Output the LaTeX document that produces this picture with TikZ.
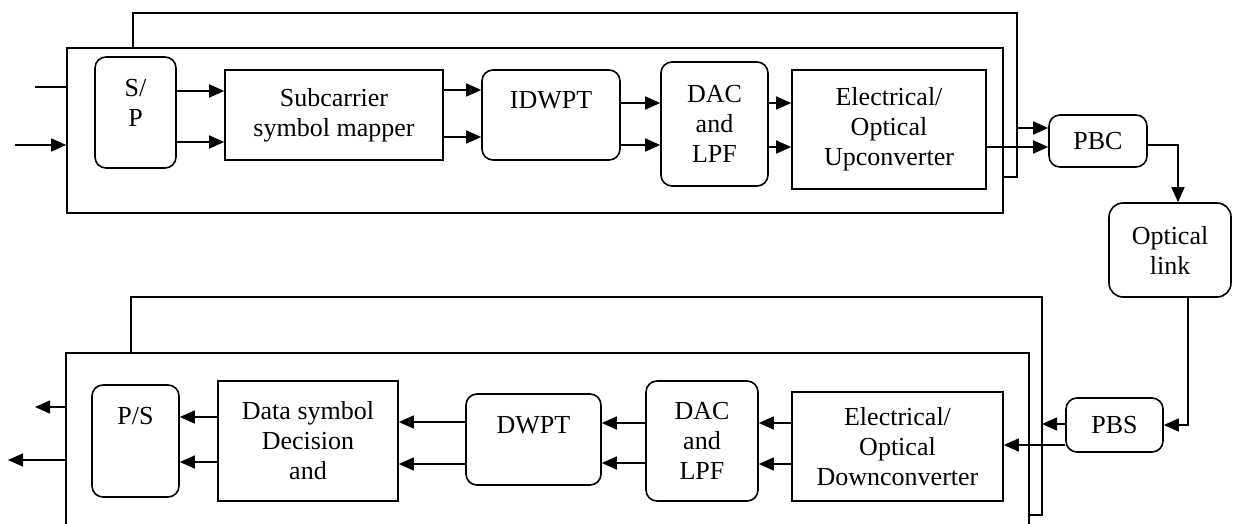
\documentclass[tikz,border=0pt]{standalone}
\usepackage{fontspec}
\setmainfont{Liberation Serif}
\usetikzlibrary{arrows.meta,calc}
\begin{document}
\begin{tikzpicture}[x=1pt,y=-1pt,line width=1.6pt,
  txt/.style={inner sep=0pt,align=center,font=\fontsize{26}{30}\selectfont},
  sq/.style={draw,rectangle,inner sep=0pt,txt},
  rd/.style={sq,rounded corners=11pt},
  frame/.style={draw,rectangle,inner sep=0pt},
  arr/.style={-{Triangle[length=15pt,width=13pt]}}]
\useasboundingbox (0,0) rectangle (1233,524);
% ---------- transmitter ----------
\coordinate (tb1) at (133,48);
\coordinate (tb2) at (1017,177);
\draw (tb1) -- (133,13) -- (1017,13) -- (tb2) -- (1003,177);
\node[frame,minimum width=936,minimum height=165] (tx) at (535,130.5) {};
\node[rd,minimum width=81,minimum height=111] (sp) at (135.5,112.5) {};
\node[txt] (spt) at (135.5,103) {S/\\P};
\node[sq,minimum width=218,minimum height=90] (sub) at (334,115) {Subcarrier\\symbol mapper};
\node[rd,minimum width=138,minimum height=90] (idw) at (551,115) {};
\node[txt] (idwt) at (551,100) {IDWPT};
\node[rd,minimum width=107,minimum height=124] (dac1) at (714.5,124) {DAC\\and\\LPF};
\node[sq,minimum width=194,minimum height=119] (eou) at (889,129.5) {Electrical/\\Optical\\Upconverter};
\node[rd,minimum width=98,minimum height=52] (pbc) at (1098,141) {PBC};
\node[rd,minimum width=122,minimum height=94,rounded corners=14pt] (ol) at (1170,250) {Optical\\link};
\coordinate (in1) at (35,87);
\coordinate (in2) at (15,145);
\draw (in1) -- (tx.west |- in1);
\draw[arr] (in2) -- (tx.west |- in2);
\draw[arr] (sp.east |- 0,91) -- (sub.west |- 0,91);
\draw[arr] (sp.east |- 0,142) -- (sub.west |- 0,142);
\draw[arr] (sub.east |- 0,90) -- (idw.west |- 0,90);
\draw[arr] (sub.east |- 0,137) -- (idw.west |- 0,137);
\draw[arr] (idw.east |- 0,103) -- (dac1.west |- 0,103);
\draw[arr] (idw.east |- 0,145) -- (dac1.west |- 0,145);
\draw[arr] (dac1.east |- 0,103) -- (eou.west |- 0,103);
\draw[arr] (dac1.east |- 0,147) -- (eou.west |- 0,147);
\draw[arr] (tb2 |- 0,128) -- (pbc.west |- 0,128);
\draw[arr] (eou.east |- 0,147) -- (pbc.west |- 0,147);
\draw[arr] (pbc.east |- 0,145) -| ($(ol.north)+(8,0)$);
% ---------- receiver ----------
\coordinate (rb1) at (131,353);
\coordinate (rb2) at (1042,515);
\draw (rb1) -- (131,297) -- (1042,297) -- (rb2) -- (1029,515);
\draw (66,524) -- (66,353) -- (1029,353) -- (1029,524);
\coordinate (rx) at (66,353);
\node[rd,minimum width=87,minimum height=112] (ps) at (135.5,441) {};
\node[txt] (pst) at (135.5,416) {P/S};
\node[sq,minimum width=180,minimum height=120] (dat) at (308,441) {Data symbol\\Decision\\and};
\node[rd,minimum width=135,minimum height=91] (dw) at (533.5,439.5) {};
\node[txt] (dwt) at (533.5,425) {DWPT};
\node[rd,minimum width=112,minimum height=120] (dac2) at (702,441) {DAC\\and\\LPF};
\node[sq,minimum width=211,minimum height=109] (eod) at (897.5,446.5) {Electrical/\\Optical\\Downconverter};
\node[rd,minimum width=97,minimum height=54] (pbs) at (1114.5,425) {PBS};
\draw[arr] ($(ol.south)+(18,0)$) |- (pbs.east);
\draw[arr] (pbs.west |- 0,424) -- (rb2 |- 0,424);
\draw[arr] (pbs.west |- 0,445) -- (eod.east |- 0,445);
\draw[arr] (eod.west |- 0,423) -- (dac2.east |- 0,423);
\draw[arr] (eod.west |- 0,464) -- (dac2.east |- 0,464);
\draw[arr] (dac2.west |- 0,423) -- (dw.east |- 0,423);
\draw[arr] (dac2.west |- 0,463) -- (dw.east |- 0,463);
\draw[arr] (dw.west |- 0,422) -- (dat.east |- 0,422);
\draw[arr] (dw.west |- 0,464) -- (dat.east |- 0,464);
\draw[arr] (dat.west |- 0,417) -- (ps.east |- 0,417);
\draw[arr] (dat.west |- 0,462) -- (ps.east |- 0,462);
\coordinate (out1) at (35,407);
\coordinate (out2) at (8,460);
\draw[arr] (rx |- out1) -- (out1);
\draw[arr] (rx |- out2) -- (out2);
\end{tikzpicture}
\end{document}
